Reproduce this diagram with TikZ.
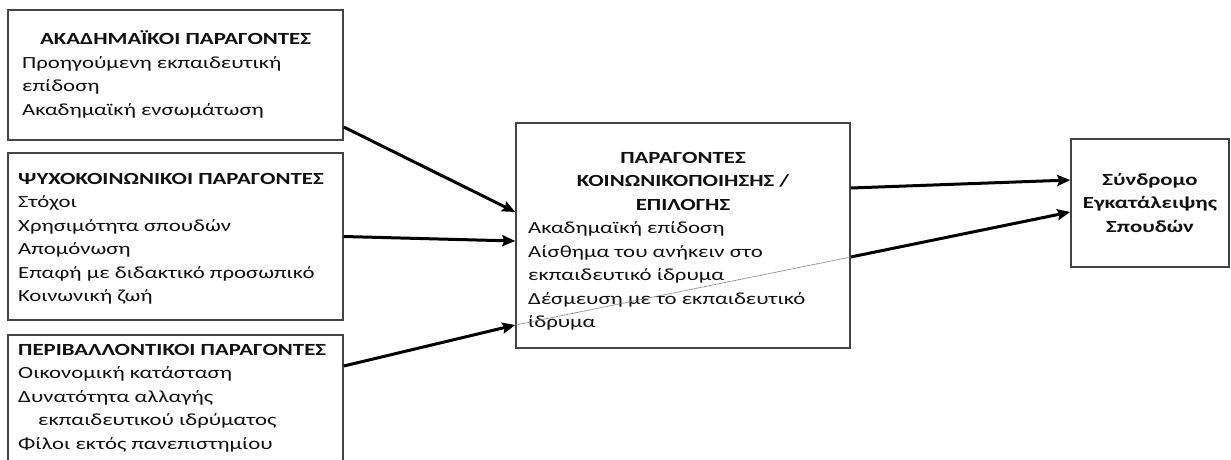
\documentclass[tikz,border=0pt]{standalone}
\usepackage{fontspec}
\setmainfont[FakeStretch=1.34]{Carlito}
\usetikzlibrary{arrows.meta}
\definecolor{frame}{HTML}{444444}
\definecolor{ink}{HTML}{111111}
\tikzset{
  box/.style={draw=frame, line width=1.5pt, inner sep=0pt, fill=none},
  head/.style={font=\fontsize{17}{20}\selectfont\bfseries, text=ink, inner sep=0pt, anchor=base},
  headw/.style={head, anchor=base west},
  item/.style={font=\fontsize{17}{20}\selectfont, text=ink, inner sep=0pt, anchor=base west},
  link/.style={line width=3pt, -{Stealth[length=13pt,width=11pt,inset=2pt]}},
  through/.style={draw=gray, line width=0.7pt, dash pattern=on 2pt off 0.6pt}
}
\begin{document}
\begin{tikzpicture}[x=1pt,y=-1pt]
\useasboundingbox[fill=white] (0,0) rectangle (1231,459);
\clip (0,0) rectangle (1231,459);

% frames
\node[box, minimum width=335pt, minimum height=130pt] (b1) at (175.5,75) {};
\node[box, minimum width=335pt, minimum height=167pt] (b2) at (175.5,236.5) {};
\node[box, minimum width=335pt, minimum height=145pt] (b3) at (175.5,407.5) {};
\node[box, minimum width=334pt, minimum height=225pt] (mid) at (683,235.5) {};
\node[box, minimum width=158pt, minimum height=128pt] (res) at (1150,203) {};

% academic factors
\node[head] (h1) at (175.5,44.5) {ΑΚΑΔΗΜΑΪΚΟΙ ΠΑΡΑΓΟΝΤΕΣ};
\node[item] (a1) at (22,68) {Προηγούμενη εκπαιδευτική};
\node[item] (a2) at (22,91.5) {επίδοση};
\node[item] (a3) at (22,115) {Ακαδημαϊκή ενσωμάτωση};

% psychosocial factors
\node[headw] (h2) at (18,184) {ΨΥΧΟΚΟΙΝΩΝΙΚΟΙ ΠΑΡΑΓΟΝΤΕΣ};
\node[item] (p1) at (18,207.5) {Στόχοι};
\node[item] (p2) at (18,231) {Χρησιμότητα σπουδών};
\node[item] (p3) at (18,254.5) {Απομόνωση};
\node[item] (p4) at (18,278) {Επαφή με διδακτικό προσωπικό};
\node[item] (p5) at (18,301.5) {Κοινωνική ζωή};

% environmental factors
\node[headw] (h3) at (18,355) {ΠΕΡΙΒΑΛΛΟΝΤΙΚΟΙ ΠΑΡΑΓΟΝΤΕΣ};
\node[item] (e1) at (18,378.5) {Οικονομική κατάσταση};
\node[item] (e2) at (18,402) {Δυνατότητα αλλαγής};
\node[item] (e3) at (38,425.5) {εκπαιδευτικού ιδρύματος};
\node[item] (e4) at (18,449) {Φίλοι εκτός πανεπιστημίου};

% socialisation / selection factors
\node[head] (m1) at (683,163) {ΠΑΡΑΓΟΝΤΕΣ};
\node[head] (m2) at (683,186.5) {ΚΟΙΝΩΝΙΚΟΠΟΙΗΣΗΣ /};
\node[head] (m3) at (683,210) {ΕΠΙΛΟΓΗΣ};
\node[item] (s1) at (528,233.5) {Ακαδημαϊκή επίδοση};
\node[item] (s2) at (528,257) {Αίσθημα του ανήκειν στο};
\node[item] (s3) at (528,280.5) {εκπαιδευτικό ίδρυμα};
\node[item] (s4) at (528,304) {Δέσμευση με το εκπαιδευτικό};
\node[item] (s5) at (528,327.5) {ίδρυμα};

% outcome
\node[head] (r1) at (1150,185) {Σύνδρομο};
\node[head] (r2) at (1150,208.5) {Εγκατάλειψης};
\node[head] (r3) at (1150,232) {Σπουδών};

% connectors
\draw[link] ([yshift=-52pt]b1.east) -- ([yshift=23.5pt]mid.west);
\draw[link] (b2.east) -- ([yshift=-5.5pt]mid.west);
\draw[link] ([yshift=41.5pt]b3.east) -- ([yshift=-89.5pt]mid.west);
\draw[through] ([yshift=-89.5pt]mid.west) -- ([yshift=-21.5pt]mid.east);
\draw[link] ([yshift=-21.5pt]mid.east) -- ([yshift=-9pt]res.west);
\draw[link] ([yshift=47.5pt]mid.east) -- ([yshift=23pt]res.west);
\end{tikzpicture}
\end{document}
